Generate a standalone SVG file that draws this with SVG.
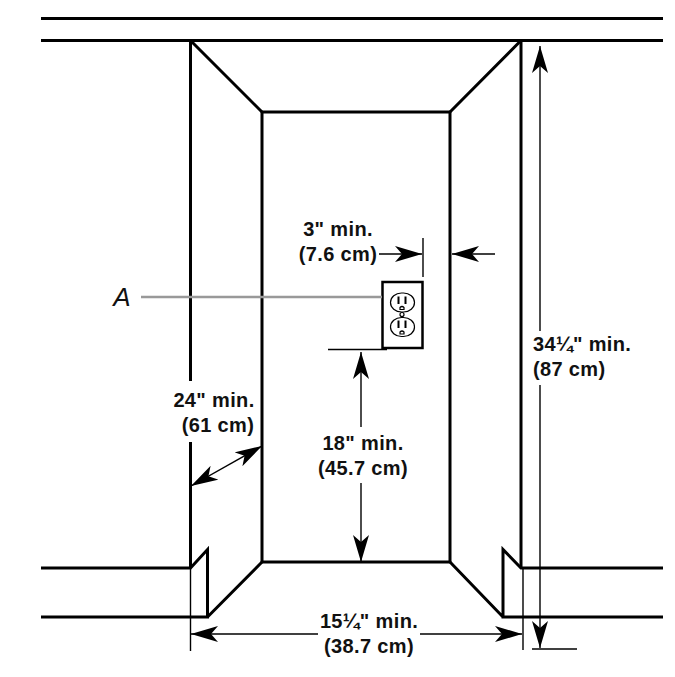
<svg xmlns="http://www.w3.org/2000/svg" width="675" height="677" viewBox="0 0 675 677">
<defs>
<marker id="ah" viewBox="0 0 27 16" refX="27" refY="8" markerWidth="27" markerHeight="16" markerUnits="userSpaceOnUse" orient="auto-start-reverse"><path d="M27 8L0 0L7 8L0 16Z" fill="#000"/></marker>
</defs>
<style>
.w{fill:none;stroke:#000;stroke-width:3;stroke-linejoin:miter}
.d{fill:none;stroke:#000;stroke-width:1.4}
.a{marker-end:url(#ah)}
.b{marker-start:url(#ah)}
.t{font-family:"Liberation Sans",Arial,sans-serif;font-weight:700;font-size:20px;letter-spacing:.35px;fill:#111}
.o{fill:none;stroke:#000;stroke-width:1.200}
</style>
<rect width="675" height="677" fill="#fff"/>
<g id="cabinet">
<path class="w" d="M41 18.500H663"/>
<path class="w" d="M41 40.500H663"/>
<path class="w" d="M190.500 40.500V381M190.500 442V568"/>
<path class="w" d="M521 40.500V568"/>
<path class="w" d="M262 112H450V562H262Z"/>
<path class="w" d="M190.500 40.500L262 112M521 40.500L450 112"/>
<path class="w" d="M41 568H190.500L207.500 549.500V617H41M207.500 617L262 562"/>
<path class="w" d="M663 568H521L503 549.500V617H663M503 617L450 562"/>
</g>
<g id="outlet">
<rect x="382.500" y="282" width="40" height="66" fill="#fff" stroke="#000" stroke-width="2.500"/>
<rect class="o" x="390.500" y="293" width="24" height="19" rx="11" ry="9.500"/>
<rect class="o" x="390.500" y="317.500" width="24" height="19" rx="11" ry="9.500"/>
<circle class="o" cx="402" cy="314.500" r="2"/>
<path d="M398.500 296.500V304M405.500 296.500V304M398.500 320.500V328M405.500 320.500V328" stroke="#000" stroke-width="2"/>
<path class="o" d="M400 309.500V307.500Q402 305.500 404 307.500V309.500ZM400 334V332Q402 330 404 332V334Z"/>
</g>
<g id="connectors">
<path d="M141 297H382" stroke="#999" stroke-width="2.500"/>
<path class="d a" d="M379 254H422"/>
<path class="d" d="M423 238V277"/>
<path class="d a" d="M495 254H452"/>
<path d="M328 349.500H387" stroke="#000" stroke-width="1.500"/>
<path class="d b" d="M361 352V427"/>
<path class="d a" d="M361 483V562"/>
<path class="d a b" d="M191 486L262 446"/>
<path class="d b" d="M540 46V331"/>
<path class="d a" d="M540 385V648"/>
<path d="M532 649H577" stroke="#000" stroke-width="1.500"/>
<path class="d" d="M190.500 568V651M523 568V650"/>
<path class="d b" d="M191 634H318"/>
<path class="d a" d="M420 634H522"/>
</g>
<g id="labels">
<text class="t" x="338" y="236" text-anchor="middle">3" min.</text>
<text class="t" x="338" y="261" text-anchor="middle">(7.6 cm)</text>
<text x="122" y="306" text-anchor="middle" font-family="Liberation Sans,Arial,sans-serif" font-style="italic" font-size="26" fill="#111">A</text>
<text class="t" x="214" y="407" text-anchor="middle">24" min.</text>
<text class="t" x="218" y="432" text-anchor="middle">(61 cm)</text>
<text class="t" x="363" y="450" text-anchor="middle">18" min.</text>
<text class="t" x="363" y="475" text-anchor="middle">(45.7 cm)</text>
<text class="t" x="533" y="351">34¼" min.</text>
<text class="t" x="533" y="376">(87 cm)</text>
<text class="t" x="369" y="628" text-anchor="middle">15¼" min.</text>
<text class="t" x="369" y="653" text-anchor="middle">(38.7 cm)</text>
</g>
</svg>
